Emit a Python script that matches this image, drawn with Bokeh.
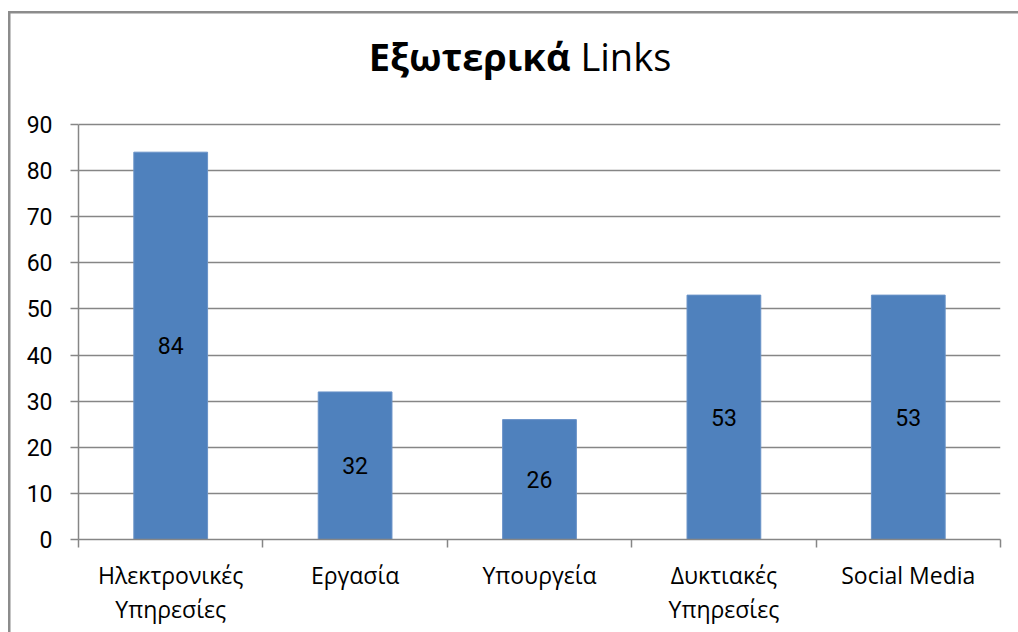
import numpy as np
from bokeh.plotting import figure
from bokeh.models import FixedTicker, Range1d, ColumnDataSource
from bokeh.core.properties import value
from bokeh.embed import file_html
from bokeh.resources import INLINE

categories = ["Ηλεκτρονικές\nΥπηρεσίες", "Εργασία", "Υπουργεία", "Δυκτιακές\nΥπηρεσίες", "Social Media"]
values = [84, 32, 26, 53, 53]
y_ticks = [0, 10, 20, 30, 40, 50, 60, 70, 80, 90]
title_bold = "Εξωτερικά"
title_rest = "Links"

n = len(categories)
centers = [i + 0.5 for i in range(n)]

p = figure(width=1018, height=632, output_backend="svg", toolbar_location=None,
           x_range=Range1d(0, n), y_range=Range1d(0, 112.56),
           min_border_left=78, min_border_right=18, min_border_top=20, min_border_bottom=93)
p.outline_line_color = None
p.background_fill_color = "white"
p.border_fill_color = None
p.styles = {
    "background": "linear-gradient(#8c8c8c, #8c8c8c) 8px 11px / 100% 2.5px no-repeat, "
                  "linear-gradient(#8c8c8c, #8c8c8c) 8px 11px / 2.5px 100% no-repeat, white"
}

src = ColumnDataSource(dict(x=centers, top=values, mid=[v / 2 for v in values],
                            lab=[str(v) for v in values]))
p.vbar(x="x", top="top", bottom=0, width=0.4, source=src,
       fill_color="#4F81BD", line_color="#6a93c8", line_width=1)
p.text(x="x", y="mid", text="lab", source=src, text_align="center", text_baseline="middle",
       text_font=value("Roboto"), text_font_size="23px", text_color="black")

# title
p.text(x=[2.668], y=[104.8], text=[title_bold], text_align="right", text_baseline="alphabetic",
       text_font=value("Open Sans"), text_font_style="bold", text_font_size="38px", text_color="black")
p.text(x=[2.722], y=[104.8], text=[title_rest], text_align="left", text_baseline="alphabetic",
       text_font=value("Open Sans"), text_font_size="38px", text_color="black")

# y axis
yax = p.yaxis[0]
yax.ticker = FixedTicker(ticks=y_ticks, minor_ticks=[])
yax.bounds = (0, 90)
yax.axis_line_color = "#868686"
yax.axis_line_width = 1.5
yax.major_tick_line_color = "#868686"
yax.major_tick_line_width = 1.5
yax.major_tick_out = 8
yax.major_tick_in = 0
yax.minor_tick_line_color = None
yax.major_label_standoff = 18
yax.major_label_text_font = "Roboto"
yax.major_label_text_font_size = "23px"
yax.major_label_text_color = "black"

p.ygrid.ticker = FixedTicker(ticks=y_ticks)
p.ygrid.grid_line_color = "#868686"
p.ygrid.grid_line_width = 1.5
p.xgrid.visible = False

# x axis
xax = p.xaxis[0]
xax.ticker = FixedTicker(ticks=centers, minor_ticks=list(range(n + 1)))
xax.major_label_overrides = {c: lab for c, lab in zip(centers, categories)}
xax.axis_line_color = "#868686"
xax.axis_line_width = 1.5
xax.major_tick_line_color = None
xax.major_tick_out = 0
xax.major_tick_in = 0
xax.minor_tick_line_color = "#868686"
xax.minor_tick_line_width = 1.5
xax.minor_tick_out = 8
xax.minor_tick_in = 0
xax.major_label_standoff = 11
xax.major_label_text_font = "Open Sans"
xax.major_label_text_font_size = "23px"
xax.major_label_text_color = "black"
xax.major_label_text_line_height = 1.08

open("out.html", "w").write(file_html(p, INLINE))
